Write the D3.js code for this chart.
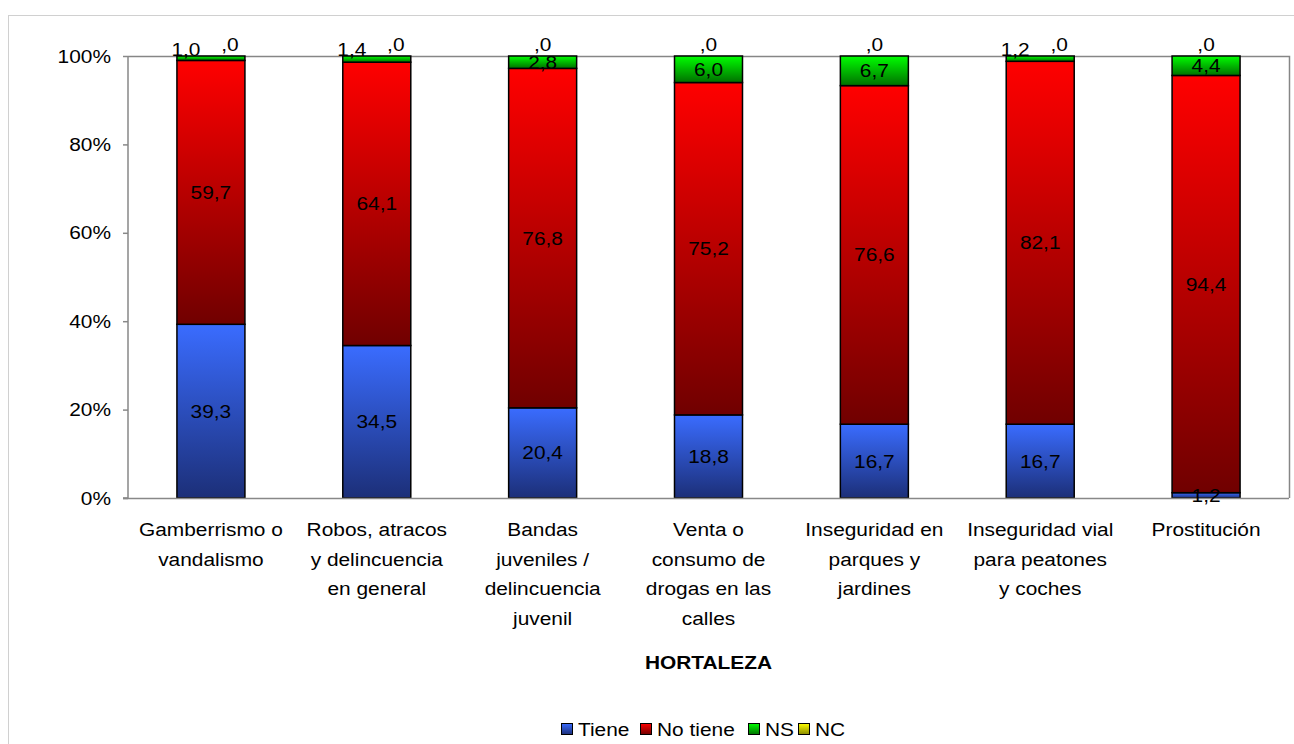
<!DOCTYPE html>
<html><head><meta charset="utf-8">
<script src="https://cdn.jsdelivr.net/npm/d3@7"></script>
<style>body{margin:0;background:#fff;} text{font-family:"Liberation Sans",Arial,sans-serif;}</style>
</head><body><svg id="c" width="1294" height="744"></svg>
<script>
const categories = [
  ["Gamberrismo o","vandalismo"],
  ["Robos, atracos","y delincuencia","en general"],
  ["Bandas","juveniles /","delincuencia","juvenil"],
  ["Venta o","consumo de","drogas en las","calles"],
  ["Inseguridad en","parques y","jardines"],
  ["Inseguridad vial","para peatones","y coches"],
  ["Prostitución"]
];
const seriesNames = ["Tiene","No tiene","NS","NC"];
const tiene   = [39.3, 34.5, 20.4, 18.8, 16.7, 16.7, 1.2];
const noTiene = [59.7, 64.1, 76.8, 75.2, 76.6, 82.1, 94.4];
const ns      = [1.0, 1.4, 2.8, 6.0, 6.7, 1.2, 4.4];
const nc      = [0, 0, 0, 0, 0, 0, 0];
const yTicks  = [0, 20, 40, 60, 80, 100];
const xTitle  = "HORTALEZA";

const FS = 18, SX = 1.16;
const colors = [["#3a6cff","#1c2f78"],["#ff0000","#700000"],["#00ff00","#007000"],["#ffff00","#8a8a00"]];
const svg = d3.select("#c");
const defs = svg.append("defs");
colors.forEach((c,i)=>{
  const g = defs.append("linearGradient").attr("id","g"+i).attr("x1",0).attr("y1",0).attr("x2",0).attr("y2",1);
  g.append("stop").attr("offset","0%").attr("stop-color",c[0]);
  g.append("stop").attr("offset","100%").attr("stop-color",c[1]);
});

function txt(parent, px, py, str, anchor, extra){
  const t = parent.append("text").attr("transform",`translate(${px},${py}) scale(${SX},1)`)
    .attr("text-anchor",anchor||"middle").attr("font-size",FS).attr("fill","#000").text(str);
  if (extra) extra(t);
  return t;
}

// outer chart border
svg.append("rect").attr("x",8.5).attr("y",15.5).attr("width",1300).attr("height",760)
  .attr("fill","none").attr("stroke","#d0d0d0").attr("stroke-width",1);

const L=128, R=1289, T=56, B=498;
const x = d3.scaleBand().domain(d3.range(categories.length)).range([L,R]).paddingInner(0.59).paddingOuter(0.295);
const y = d3.scaleLinear().domain([0,100]).range([B,T]);

// plot border (top/right)
svg.append("path").attr("d",`M${L},${T+0.5}H${R+0.5}V${B}`).attr("fill","none").attr("stroke","#868686").attr("stroke-width",1.5);

const data = categories.map((c,i)=>[tiene[i],noTiene[i],ns[i],nc[i]]);
const stack = d3.stack().keys([0,1,2,3])(data);

const gBars = svg.append("g");
stack.forEach((s,si)=>{
  s.forEach((d,i)=>{
    const h = y(d[0]) - y(d[1]);
    if (h<=0) return;
    gBars.append("rect").attr("x",x(i)).attr("y",y(d[1])).attr("width",x.bandwidth()).attr("height",h)
      .attr("fill",`url(#g${si})`).attr("stroke","#000").attr("stroke-width",1.5);
  });
});

// axes
const yAxis = d3.axisLeft(y).tickValues(yTicks).tickFormat("").tickSize(5);
const ga = svg.append("g").attr("transform",`translate(${L},0)`).call(yAxis);
ga.selectAll("path,line").attr("stroke","#888").attr("stroke-width",1.5);
ga.select(".domain").attr("d",`M-5,${B}H0V${T}`);
yTicks.forEach(v=>txt(svg, 111, y(v)+6.5, v+"%", "end"));

svg.append("line").attr("x1",L-5).attr("x2",R).attr("y1",B+0.5).attr("y2",B+0.5).attr("stroke","#888").attr("stroke-width",1.5);

// category labels
categories.forEach((lines,i)=>{
  lines.forEach((ln,k)=>txt(svg, x(i)+x.bandwidth()/2, 536+k*29.7, ln, "middle"));
});
txt(svg, (L+R)/2, 669, xTitle, "middle", t=>t.attr("font-weight","bold"));

// data labels
const fmt = v => { const s = v.toFixed(1).replace(".",","); return s.startsWith("0")? s.slice(1): s; };
const gl = svg.append("g");
data.forEach((row,i)=>{
  const cx = x(i)+x.bandwidth()/2;
  let cum=0;
  const nsSmall = (y(0)-y(row[2])) < 10;
  row.forEach((v,si)=>{
    const y0=cum, y1=cum+v; cum=y1;
    let px = cx, py = (y(y0)+y(y1))/2;
    if (si===3){ py = T-12; if (nsSmall) px = cx+19; }
    else if (si===2 && nsSmall){ py = T-7; px = cx-25; }
    txt(gl, px, py+6.5, fmt(v), "middle");
  });
});

// legend
const leg = svg.append("g");
const items = [561,640,748,798];
items.forEach((lx,i)=>{
  leg.append("rect").attr("x",lx+0.5).attr("y",723.5).attr("width",11).attr("height",11)
    .attr("fill",`url(#g${i})`).attr("stroke","#000").attr("stroke-width",1);
  txt(leg, lx+17, 736, seriesNames[i], "start");
});
</script></body></html>
